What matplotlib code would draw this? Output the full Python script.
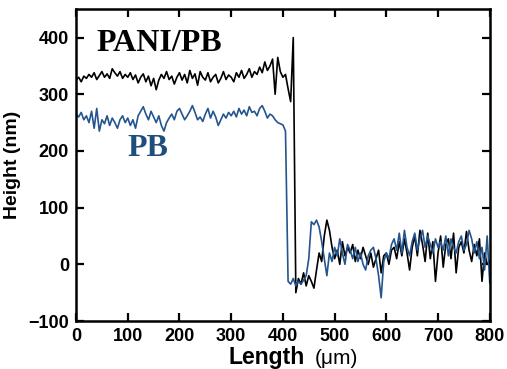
import numpy as np
import matplotlib
matplotlib.use("Agg")
import matplotlib.pyplot as plt

# sampling positions (um)
length = np.arange(0, 801, 5)

pani_pb = [
    325, 330, 322, 332, 328, 335, 330, 338, 326, 333, 340, 330, 336, 328, 345, 338, 332, 340, 328, 335, 330,
    338, 326, 334, 320, 330, 336, 322, 332, 315, 328, 308, 325, 335, 328, 340, 326, 332, 318, 330, 338,
    325, 335, 320, 342, 328, 336, 316, 340, 330, 325, 338, 322, 330, 335, 320, 328, 340, 326, 334, 330,
    322, 338, 330, 342, 328, 335, 345, 330, 340, 335, 348, 338, 357, 342, 350, 362, 300, 365, 340, 330,
    335, 310, 287, 400,
    -50, -25, -35, -15, -38, -20, -30, -42,
    -10, 20, 5, 50, 78, 60, 30, 10,
    25, 0, 40, 15, 30, 20, 35, 5, 25, 10, 30, 15, 0, 20, -5, 10, 25, -15, 15, 20,
    0, 25, 30, 10, 40, 15, 45, 20, -10, 30, 50, 15, 60, 35, 5, 55, 10, 40, -30, 20,
    50, -5, 35, 45, 10, 55, -15, 30, 40, 20, 58, 25, 5, 35, 15, 45, -30, 20, 0, 5,
]

pb = [
    265, 260, 268, 255, 262, 250, 270, 240, 275, 235, 255, 248, 262, 245, 258, 250, 240, 255, 262, 250, 258,
    245, 255, 240, 262, 270, 278, 265, 255, 270, 260, 250, 262, 245, 235, 250, 258, 265, 255, 270, 275,
    265, 255, 262, 270, 280, 268, 255, 260, 252, 265, 275, 258, 270, 260, 245, 255, 265, 258, 268, 262,
    270, 260, 275, 265, 272, 262, 278, 268, 270, 262, 275, 280, 270, 258, 265, 262, 255, 250, 248, 246,
    235, -30,
    -35, -25, -38, -30, -35, -28, -20,
    10, 75, 70, 78, 66, 40, 10, -20, 20, 5, 30,
    15, 45, 20, 0, 35, 25, 10, 30, 5, 20, 0, -10, 15, 25, 30, 10, -20, -59, 5, 20,
    10, 35, 45, 25, 55, 20, 60, 30, 15, 40, 55, 25, 45, 60, 30, 50, 35, 20, 45, 30,
    40, 25, 50, 15, 45, 30, 20, 40, 50, 25, 35, 60, 45, 20, 40, 10, 30, -10, 50, -33,
]

xticks = [0, 100, 200, 300, 400, 500, 600, 700, 800]
yticks = [-100, 0, 100, 200, 300, 400]

plt.rcParams['font.family'] = ['Liberation Sans', 'DejaVu Sans']

fig = plt.figure(figsize=(5.07, 3.69), dpi=100)
ax = fig.add_axes([0.150, 0.130, 0.816, 0.845])

ax.plot(length, pani_pb, color='black', lw=1.2)
ax.plot(length, pb, color='#24558f', lw=1.2)

ax.set_xlim(0, 800)
ax.set_ylim(-100, 450)
ax.set_xticks(xticks)
ax.set_yticks(yticks)
ax.tick_params(direction='in', top=True, right=True, length=6, width=1.6,
               labelsize=13, pad=5)
for lab in ax.get_xticklabels() + ax.get_yticklabels():
    lab.set_fontweight('bold')
for sp in ax.spines.values():
    sp.set_linewidth(1.8)

# x label: bold word + regular unit
fig.text(228 / 507, 1 - 364 / 369, 'Length', fontsize=16.5, fontweight='bold', va='baseline')
fig.text(315 / 507, 1 - 364 / 369, '(\u03bcm)', fontsize=15, va='baseline')
ax.set_ylabel('Height (nm)', fontsize=14, fontweight='bold', labelpad=5)

ax.text(39, 376, 'PANI/PB', fontsize=23, fontweight='bold', family='Liberation Serif',
        color='black')
ax.text(100, 191, 'PB', fontsize=23, fontweight='bold', family='Liberation Serif',
        color='#1f4e7c')

fig.savefig('out.png', dpi=100)
